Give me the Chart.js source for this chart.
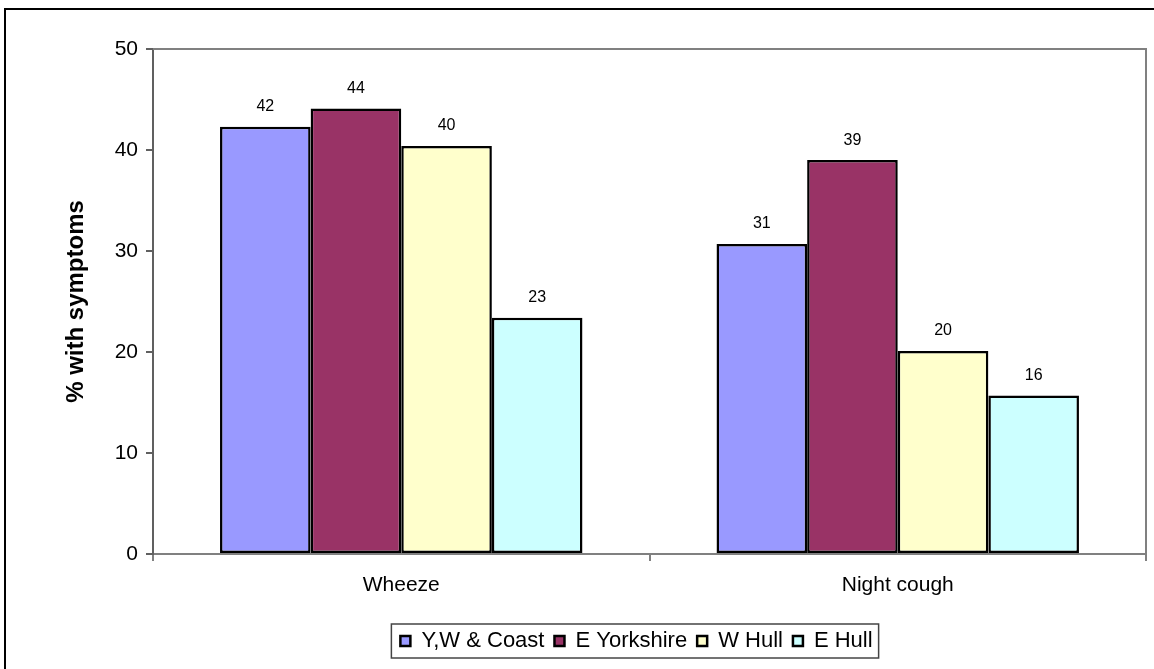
<!DOCTYPE html>
<html>
<head>
<meta charset="utf-8">
<script src="https://cdn.jsdelivr.net/npm/chart.js@4"></script>
<style>
  html, body { margin: 0; padding: 0; background: #fff; }
  #wrap { width: 1154px; height: 669px; position: relative; }
</style>
</head>
<body>
<div id="wrap"><canvas id="symptomsChart" width="1154" height="669"></canvas></div>
<script>
const categories = ['Wheeze', 'Night cough'];
const seriesNames = ['Y,W & Coast', 'E Yorkshire', 'W Hull', 'E Hull'];
const ywCoast = [42.3, 30.7];
const eYorkshire = [44.1, 39.0];
const wHull = [40.4, 20.1];
const eHull = [23.4, 15.7];
const yTicks = [0, 10, 20, 30, 40, 50];

const fills = ['#9999FF', '#993366', '#FFFFCC', '#CCFFFF'];
const FONT = 'Arial, "Liberation Sans", sans-serif';

// value labels above each bar
const barLabels = {
    id: 'barLabels',
    afterDatasetsDraw(chart) {
        const ctx = chart.ctx;
        ctx.save();
        ctx.font = '16px ' + FONT;
        ctx.fillStyle = '#000';
        ctx.textAlign = 'center';
        ctx.textBaseline = 'middle';
        chart.data.datasets.forEach((ds, i) => {
            chart.getDatasetMeta(i).data.forEach((bar, j) => {
                ctx.fillText(Math.round(ds.data[j]), bar.x, bar.y - 20);
            });
        });
        ctx.restore();
    }
};

// plot frame (top/right), outer frame, legend box
const frames = {
    id: 'frames',
    afterLayout(chart) {
        const lg = chart.legend;
        const dx = 636.5 - (lg.left + lg.right) / 2;
        lg.left += dx;
        lg.right += dx;
    },
    beforeDatasetsDraw(chart) {
        const { ctx, chartArea: a } = chart;
        ctx.save();
        ctx.strokeStyle = '#808080';
        ctx.lineWidth = 2;
        ctx.beginPath();
        ctx.moveTo(a.left, a.top);
        ctx.lineTo(a.right, a.top);
        ctx.lineTo(a.right, a.bottom);
        ctx.stroke();
        ctx.restore();
    },
    afterDraw(chart) {
        const ctx = chart.ctx;
        ctx.save();
        ctx.strokeStyle = '#000';
        ctx.lineWidth = 2;
        ctx.beginPath();
        ctx.moveTo(5, 669);
        ctx.lineTo(5, 9);
        ctx.lineTo(1154, 9);
        ctx.stroke();

        const boxes = chart.legend.legendHitBoxes;
        if (boxes && boxes.length) {
            const l = Math.min(...boxes.map(b => b.left)) - 9;
            const r = Math.max(...boxes.map(b => b.left + b.width)) + 6;
            const t = Math.min(...boxes.map(b => b.top)) - 6;
            const btm = Math.max(...boxes.map(b => b.top + b.height)) + 6;
            ctx.strokeStyle = '#444';
            ctx.lineWidth = 1.5;
            ctx.strokeRect(l, t, r - l, btm - t);
        }
        ctx.restore();
    }
};

const chart = new Chart(document.getElementById('symptomsChart'), {
    type: 'bar',
    data: {
        labels: categories,
        datasets: [ywCoast, eYorkshire, wHull, eHull].map((vals, i) => ({
            label: seriesNames[i],
            data: vals,
            backgroundColor: fills[i],
            borderColor: '#000',
            borderWidth: 2.5,
            borderSkipped: false,
            categoryPercentage: 0.73,
            barPercentage: 1
        }))
    },
    options: {
        responsive: false,
        devicePixelRatio: 1,
        animation: false,
        layout: { padding: { left: 62, top: 49, right: 8, bottom: 7 } },
        plugins: {
            tooltip: { enabled: false },
            legend: {
                position: 'bottom',
                labels: {
                    font: { family: FONT, size: 22 },
                    color: '#000',
                    boxWidth: 10,
                    boxHeight: 10,
                    padding: 10
                }
            }
        },
        scales: {
            x: {
                grid: { display: true, offset: true, drawOnChartArea: false, tickLength: 7, color: '#808080', lineWidth: 2 },
                border: { color: '#808080', width: 2 },
                ticks: { font: { family: FONT, size: 21 }, color: '#000', padding: 12 },
                afterFit(scale) { scale.height = 66; }
            },
            y: {
                min: 0,
                max: 50,
                afterBuildTicks(scale) { scale.ticks = yTicks.map(v => ({ value: v })); },
                grid: { display: true, drawOnChartArea: false, tickLength: 7, color: '#606060', lineWidth: 2 },
                border: { color: '#606060', width: 2 },
                ticks: { font: { family: FONT, size: 21 }, color: '#000', padding: 8 },
                title: {
                    display: true,
                    text: '% with symptoms',
                    font: { family: FONT, size: 24, weight: 'bold' },
                    color: '#000',
                    padding: { top: 0, bottom: 0 }
                },
                afterFit(scale) { scale.width = 91; }
            }
        }
    },
    plugins: [barLabels, frames]
});
</script>
</body>
</html>
